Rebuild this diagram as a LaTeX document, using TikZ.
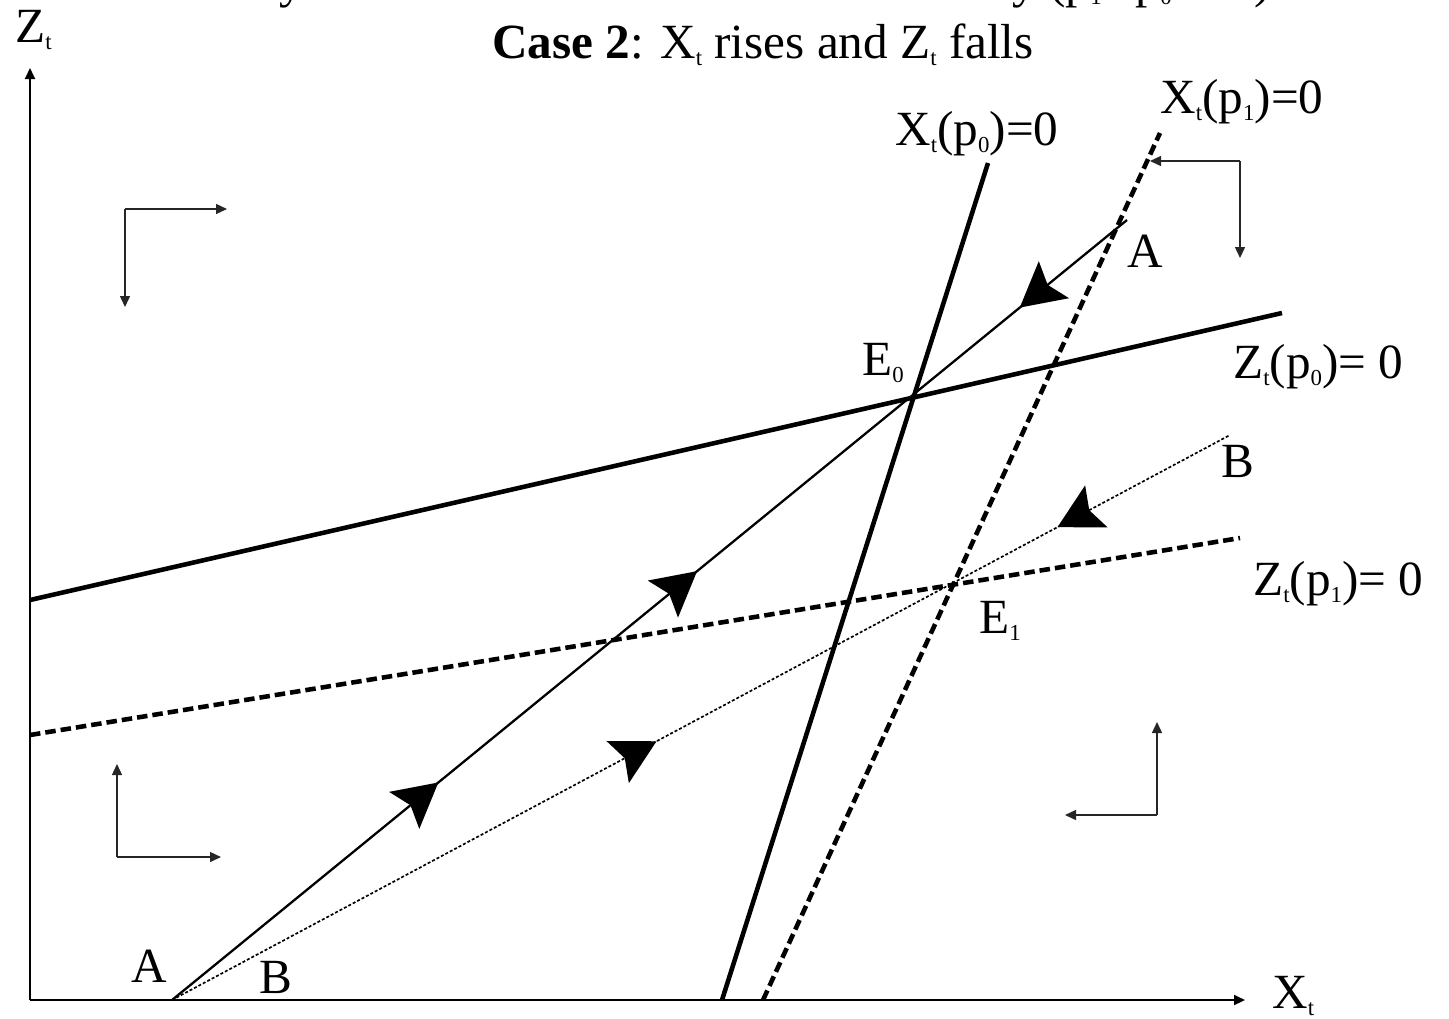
\documentclass[tikz,border=0pt]{standalone}
\usepackage{fontspec}
\setmainfont{Liberation Serif}
\usetikzlibrary{arrows.meta, decorations.markings}

% small lowered index, as in the slide
\newcommand{\lowidx}[1]{\raisebox{-0.15cm}{\fontsize{13}{13}\selectfont #1}}

\tikzset{
  bigtip/.tip={Stealth[length=0.88cm, width=0.95cm, inset=0.16cm]},
  curve/.style={line width=2.6pt},
  curvedash/.style={line width=2.6pt, dash pattern=on 0.21cm off 0.1cm},
  pathA/.style={line width=1.3pt},
  pathB/.style={line width=0.95pt, dash pattern=on 0.06cm off 0.04cm},
  axis/.style={line width=1.1pt, -{Triangle[length=0.22cm, width=0.2cm]}},
  hint/.style={line width=0.8pt, black!85, -{Triangle[length=0.22cm, width=0.2cm]}},
  lbl/.style={inner sep=0pt, anchor=base west, font=\fontsize{28}{30}\selectfont},
}

\begin{document}
\begin{tikzpicture}[x=0.02cm, y=-0.02cm]
    \useasboundingbox (0,0) rectangle (1449,1018);

    % Title (upper line cut by the frame)
    \begin{scope}
        \clip (0,0) rectangle (1449,1018);
        \node[lbl] (cut) at (244,-3) {Dynamics after an increase in efficiency (p\lowidx{1}$-$p\lowidx{0} $>$ 0)};
    \end{scope}
    \node[lbl] (title) at (492,58) {\textbf{Case 2}: X\lowidx{t} rises and Z\lowidx{t} falls};

    % Axes
    \coordinate (O) at (30,1000);
    \coordinate (ztop) at (30,68);
    \coordinate (xend) at (1245,1000);
    \draw[axis] (O) -- (ztop);
    \draw[axis] (O) -- (xend);
    \node[lbl] (zlab) at (15,42) {Z\lowidx{t}};
    \node[lbl] (xlab) at (1272,1008) {X\lowidx{t}};

    % Isoclines
    \coordinate (x0lo) at (722,1000);
    \coordinate (x0hi) at (988,163);
    \coordinate (x1lo) at (763,1000);
    \coordinate (x1hi) at (1160,133);
    \coordinate (z0lo) at (30,600);
    \coordinate (z0hi) at (1282,313);
    \coordinate (z1lo) at (30,735);
    \coordinate (z1hi) at (1240,538);
    \draw[curve] (x0lo) -- (x0hi);
    \draw[curvedash] (x1lo) -- (x1hi);
    \draw[curve] (z0lo) -- (z0hi);
    \draw[curvedash] (z1lo) -- (z1hi);

    \node[lbl] (x0lab) at (895,145) {X\lowidx{t}(p\lowidx{0})=0};
    \node[lbl] (x1lab) at (1160,113) {X\lowidx{t}(p\lowidx{1})=0};
    \node[lbl] (z0lab) at (1233,378) {Z\lowidx{t}(p\lowidx{0})= 0};
    \node[lbl] (z1lab) at (1253,595) {Z\lowidx{t}(p\lowidx{1})= 0};

    % Equilibria
    \node[lbl] (e0) at (862,375) {E\lowidx{0}};
    \node[lbl] (e1) at (979,633) {E\lowidx{1}};

    % Saddle paths
    \coordinate (start) at (172,1000);
    \coordinate (aend) at (1127,220);
    \coordinate (bend) at (1230,435);
    \draw[pathA, postaction={decorate, solid}, decoration={markings,
        mark=at position 0.279 with {\arrow{bigtip}},
        mark=at position 0.55 with {\arrow{bigtip}},
        mark=at position 0.888 with {\arrowreversed{bigtip}}}] (start) -- (aend);
    \draw[pathB, postaction={decorate, solid}, decoration={markings,
        mark=at position 0.458 with {\arrow{bigtip}},
        mark=at position 0.837 with {\arrowreversed{bigtip}}}] (start) -- (bend);

    \node[lbl] (alo) at (131,982) {A};
    \node[lbl] (blo) at (259,993) {B};
    \node[lbl] (ahi) at (1127,267) {A};
    \node[lbl] (bhi) at (1221,477) {B};

    % Direction arrows
    \coordinate (tl) at (125,209);
    \coordinate (tlr) at (227,209);
    \coordinate (tld) at (125,307);
    \draw[hint] (tl) -- (tlr);
    \draw[hint] (tl) -- (tld);
    \coordinate (bl) at (117,857);
    \coordinate (blu) at (117,764);
    \coordinate (blr) at (221,857);
    \draw[hint] (bl) -- (blu);
    \draw[hint] (bl) -- (blr);
    \coordinate (tr) at (1240,161);
    \coordinate (trl) at (1150,161);
    \coordinate (trd) at (1240,258);
    \draw[hint] (tr) -- (trl);
    \draw[hint] (tr) -- (trd);
    \coordinate (br) at (1157,815);
    \coordinate (bru) at (1157,722);
    \coordinate (brl) at (1065,815);
    \draw[hint] (br) -- (bru);
    \draw[hint] (br) -- (brl);
\end{tikzpicture}
\end{document}
